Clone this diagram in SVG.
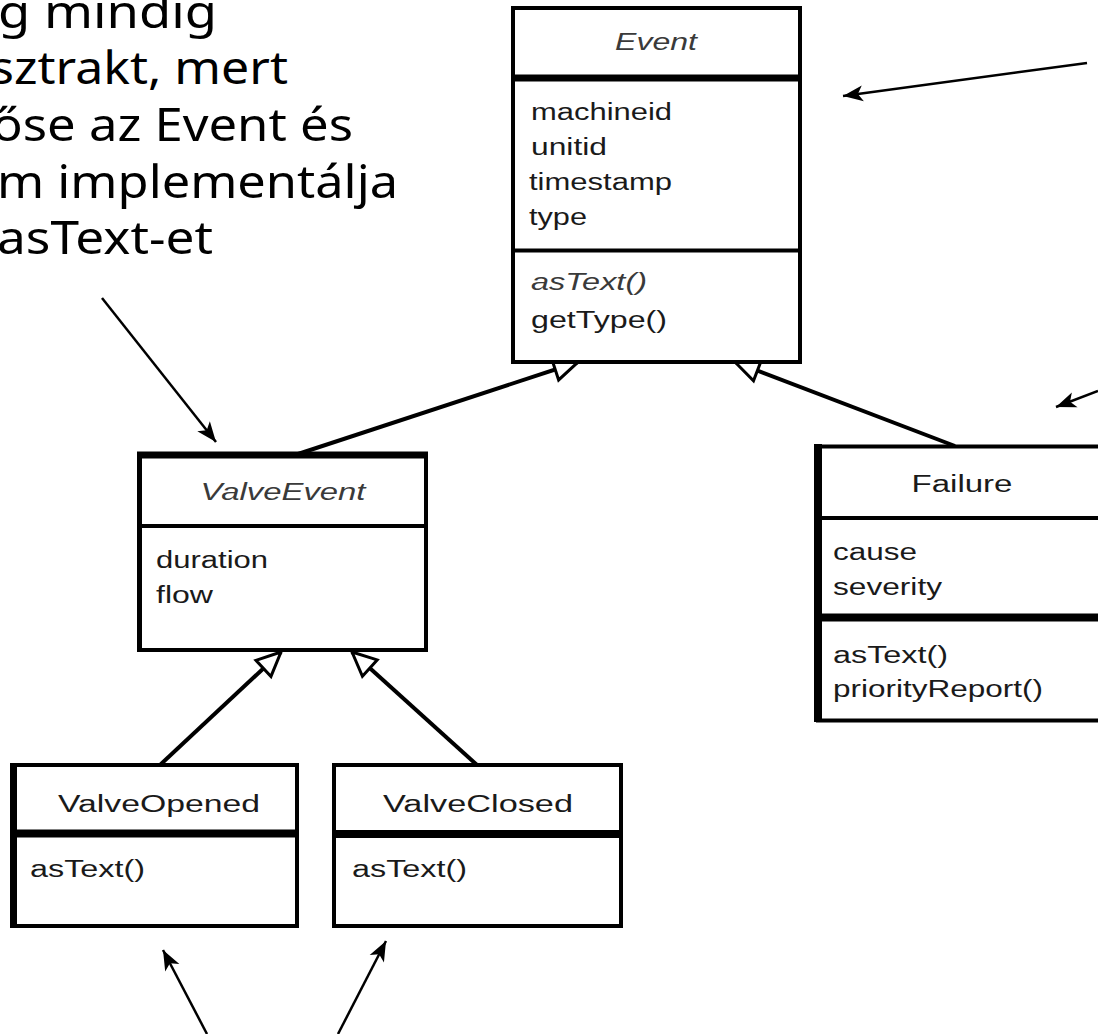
<svg xmlns="http://www.w3.org/2000/svg" width="1098" height="1034" viewBox="0 0 1098 1034">
  <style>
    .box { fill: #ffffff; stroke: #000000; stroke-width: 4; }
    .rule { stroke: #000000; }
    .lbl { font-family: "Liberation Sans", Arial, sans-serif; font-size: 23px; fill: #1a1a1a; }
    .it { font-style: italic; fill: #3a3a3a; }
    .note { font-family: "Noto Sans", "Open Sans", sans-serif; font-size: 46px; fill: #000000; }
    .gen { fill: none; stroke: #000000; stroke-width: 4; }
    .ann { fill: none; stroke: #000000; stroke-width: 2.5; }
  </style>
  <defs>
    <!-- hollow generalization triangle -->
    <marker id="tri" markerUnits="userSpaceOnUse" viewBox="-30 -15 32 30" markerWidth="32" markerHeight="30" refX="0" refY="0" orient="auto">
      <path d="M0,0 L-24,-11 L-24,11 Z" fill="#ffffff" stroke="#000000" stroke-width="3"/>
    </marker>
    <!-- filled pointer head -->
    <marker id="head" markerUnits="userSpaceOnUse" viewBox="-22 -10 24 20" markerWidth="24" markerHeight="20" refX="0" refY="0" orient="auto">
      <path d="M0,0 L-20,-8 L-15,0 L-20,8 Z" fill="#000000"/>
    </marker>
  </defs>

  <rect width="1098" height="1034" fill="#ffffff"/>

  <!-- comment text, left part cut by the page edge -->
  <g id="note">
    <text class="note" x="-2" y="28" textLength="219" lengthAdjust="spacingAndGlyphs">g mindig</text>
    <text class="note" x="-10" y="84" textLength="298" lengthAdjust="spacingAndGlyphs">sztrakt, mert</text>
    <text class="note" x="-8" y="141" textLength="361" lengthAdjust="spacingAndGlyphs">őse az Event és</text>
    <text class="note" x="-3" y="198" textLength="401" lengthAdjust="spacingAndGlyphs">m implementálja</text>
    <text class="note" x="-3" y="254" textLength="216" lengthAdjust="spacingAndGlyphs">asText-et</text>
  </g>

  <!-- connectors -->
  <g id="connectors">
    <line class="gen" x1="298" y1="454" x2="578" y2="362" marker-end="url(#tri)"/>
    <line class="gen" x1="955" y1="446" x2="735" y2="362" marker-end="url(#tri)"/>
    <line class="gen" x1="160" y1="765" x2="281" y2="652" marker-end="url(#tri)"/>
    <line class="gen" x1="477" y1="765" x2="352" y2="652" marker-end="url(#tri)"/>

    <line class="ann" x1="1087" y1="63" x2="843" y2="96" marker-end="url(#head)"/>
    <line class="ann" x1="1098" y1="391" x2="1056" y2="407" marker-end="url(#head)"/>
    <line class="ann" x1="102" y1="298" x2="216" y2="442" marker-end="url(#head)"/>
    <line class="ann" x1="207" y1="1034" x2="163" y2="950" marker-end="url(#head)"/>
    <line class="ann" x1="338" y1="1034" x2="386" y2="941" marker-end="url(#head)"/>
  </g>

  <!-- Event -->
  <g id="event">
    <rect class="box" x="513" y="8" width="287" height="354"/>
    <line class="rule" x1="513" y1="78" x2="800" y2="78" stroke-width="7"/>
    <line class="rule" x1="513" y1="250.5" x2="800" y2="250.5" stroke-width="4"/>
    <text class="lbl it" x="656" y="50" text-anchor="middle" textLength="82" lengthAdjust="spacingAndGlyphs">Event</text>
    <text class="lbl" x="531" y="120" textLength="141" lengthAdjust="spacingAndGlyphs">machineid</text>
    <text class="lbl" x="531" y="155" textLength="76" lengthAdjust="spacingAndGlyphs">unitid</text>
    <text class="lbl" x="529" y="190" textLength="143" lengthAdjust="spacingAndGlyphs">timestamp</text>
    <text class="lbl" x="529" y="225" textLength="58" lengthAdjust="spacingAndGlyphs">type</text>
    <text class="lbl it" x="531" y="290" textLength="116" lengthAdjust="spacingAndGlyphs">asText()</text>
    <text class="lbl" x="531" y="328" textLength="136" lengthAdjust="spacingAndGlyphs">getType()</text>
  </g>

  <!-- ValveEvent -->
  <g id="valve-event">
    <rect class="box" x="140" y="456" width="286" height="194"/>
    <line class="rule" x1="137" y1="455" x2="428" y2="455" stroke-width="7"/>
    <line class="rule" x1="139.5" y1="453" x2="139.5" y2="652" stroke-width="5"/>
    <line class="rule" x1="140" y1="526" x2="426" y2="526" stroke-width="4"/>
    <text class="lbl it" x="283" y="500" text-anchor="middle" textLength="165" lengthAdjust="spacingAndGlyphs">ValveEvent</text>
    <text class="lbl" x="156" y="568" textLength="112" lengthAdjust="spacingAndGlyphs">duration</text>
    <text class="lbl" x="156" y="603" textLength="57" lengthAdjust="spacingAndGlyphs">flow</text>
  </g>

  <!-- Failure -->
  <g id="failure">
    <rect class="box" x="818" y="446.5" width="300" height="274"/>
    <line class="rule" x1="818" y1="444" x2="818" y2="722" stroke-width="8"/>
    <line class="rule" x1="818" y1="518" x2="1098" y2="518" stroke-width="4"/>
    <line class="rule" x1="818" y1="617.5" x2="1098" y2="617.5" stroke-width="8"/>
    <text class="lbl" x="962" y="492" text-anchor="middle" textLength="101" lengthAdjust="spacingAndGlyphs">Failure</text>
    <text class="lbl" x="833" y="560" textLength="84" lengthAdjust="spacingAndGlyphs">cause</text>
    <text class="lbl" x="833" y="595" textLength="109" lengthAdjust="spacingAndGlyphs">severity</text>
    <text class="lbl" x="833" y="663" textLength="115" lengthAdjust="spacingAndGlyphs">asText()</text>
    <text class="lbl" x="833" y="697" textLength="210" lengthAdjust="spacingAndGlyphs">priorityReport()</text>
  </g>

  <!-- ValveOpened -->
  <g id="valve-opened">
    <rect class="box" x="13" y="765" width="284" height="161"/>
    <line class="rule" x1="13.5" y1="763" x2="13.5" y2="928" stroke-width="7"/>
    <line class="rule" x1="13" y1="833.5" x2="297" y2="833.5" stroke-width="8"/>
    <text class="lbl" x="58" y="812" textLength="202" lengthAdjust="spacingAndGlyphs">ValveOpened</text>
    <text class="lbl" x="30" y="877" textLength="115" lengthAdjust="spacingAndGlyphs">asText()</text>
  </g>

  <!-- ValveClosed -->
  <g id="valve-closed">
    <rect class="box" x="334" y="765" width="287" height="161"/>
    <line class="rule" x1="334" y1="834" x2="621" y2="834" stroke-width="8"/>
    <text class="lbl" x="383" y="812" textLength="190" lengthAdjust="spacingAndGlyphs">ValveClosed</text>
    <text class="lbl" x="352" y="877" textLength="115" lengthAdjust="spacingAndGlyphs">asText()</text>
  </g>
</svg>
